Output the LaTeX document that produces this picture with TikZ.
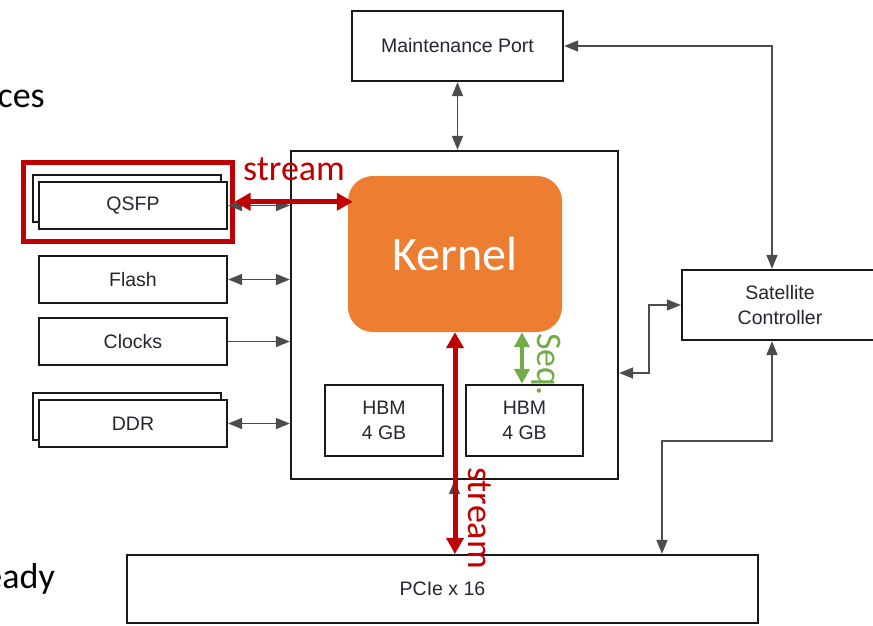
\documentclass[tikz,border=0pt]{standalone}
\usepackage{fontspec}
\setmainfont{Carlito}
\newfontfamily\boxfont{Liberation Sans}
\usetikzlibrary{arrows.meta,calc}
\definecolor{kor}{HTML}{ED7D31}
\definecolor{kred}{HTML}{C00000}
\definecolor{kgreen}{HTML}{70AD47}
\definecolor{ktxt}{HTML}{262630}
\begin{document}
\begin{tikzpicture}[x=1pt,y=-1pt,
  box/.style={draw=black!90, line width=2.3pt, fill=white, inner sep=0pt, align=center,
    font=\boxfont\fontsize{19.5}{24.5}\selectfont, text=ktxt},
  tipk/.tip={Triangle[length=14pt,width=11pt]},
  conn/.style={draw=black!70, line width=1.6pt, -tipk},
  dconn/.style={draw=black!70, line width=1.6pt, tipk-tipk},
  tipr/.tip={Triangle[length=16pt,width=17pt]},
  redarrow/.style={draw=kred, line width=5pt, tipr-tipr},
  tipg/.tip={Triangle[length=15pt,width=15pt]},
  greenarrow/.style={draw=kgreen, line width=4pt, tipg-tipg},
  bigtext/.style={inner sep=0pt, font=\fontsize{36}{40}\selectfont}
]
\useasboundingbox (0,0) rectangle (873,625);
\begin{scope}
\clip (0,0) rectangle (873,625);

% slide text fragments
\node[bigtext, anchor=base east] (ces) at (45,107) {ces};
\node[bigtext, anchor=base east] (eady) at (55,588) {eady};

% main boxes
\node[box, minimum width=211, minimum height=70] (maint) at (457.5,46) {Maintenance Port};
\node[box, minimum width=327, minimum height=328] (fpga) at (454.5,315) {};
\node[box, minimum width=196, minimum height=70] (sat) at (780,305) {Satellite\\Controller};
\node[box, minimum width=631, minimum height=68] (pcie) at (442.5,589) {PCIe x 16};

% HBM
\node[box, minimum width=118, minimum height=71] (hbma) at (384,420.5) {HBM\\4 GB};
\node[box, minimum width=117, minimum height=71] (hbmb) at (524.5,420.5) {HBM\\4 GB};

% left side boxes
\node[box, minimum width=188, minimum height=47] (qsfpb) at (127,198.5) {};
\node[box, minimum width=188, minimum height=47] (qsfp) at (133,205.5) {QSFP};
\node[box, minimum width=188, minimum height=47] (flash) at (133,279.5) {Flash};
\node[box, minimum width=188, minimum height=47] (clocks) at (133,341.5) {Clocks};
\node[box, minimum width=188, minimum height=47] (ddrb) at (127,416.5) {};
\node[box, minimum width=188, minimum height=47] (ddr) at (133,423.5) {DDR};

% red selection
\node[draw=kred, line width=5pt, inner sep=0pt, minimum width=208.5, minimum height=78.5] (qsel) at (127.75,201.75) {};

% black connectors
\draw[dconn] (maint.south) -- (maint.south |- fpga.north);
\draw[dconn] (maint.east) -| ([xshift=-8pt]sat.north);
\draw[dconn] (sat.west) -- ++(-32,0) |- ($(fpga.east)+(0,58)$);
\draw[dconn] ([xshift=-8pt]sat.south) -- ++(0,100) -| ($(pcie.north)+(219.5,0)$);
\draw[dconn] (fpga.south) -- (fpga.south |- pcie.north);
\draw[dconn] (qsfp.east) -- (qsfp.east -| fpga.west);
\draw[dconn] (flash.east) -- (flash.east -| fpga.west);
\draw[conn] (clocks.east) -- (clocks.east -| fpga.west);
\draw[dconn] (ddr.east) -- (ddr.east -| fpga.west);

% kernel
\node[fill=kor, rounded corners=25pt, minimum width=214, minimum height=156, inner sep=0pt,
  text=white, font=\fontsize{48}{52}\selectfont] (kernel) at (455,254) {Kernel};

% stream / seq arrows
\draw[redarrow] (qsel.east) -- ($(qsel.east -| kernel.west)+(5,0)$);
\draw[redarrow] (kernel.south) -- (kernel.south |- pcie.north);
\draw[greenarrow] ([xshift=67pt]kernel.south) -- ([xshift=67pt]kernel.south |- hbmb.north);

\node[bigtext, text=kred, anchor=base west] (s1) at (243,180) {stream};
\node[bigtext, text=kred, anchor=base west, rotate=-90] (s2) at (468,467) {stream};
\node[bigtext, text=kgreen, anchor=base west, rotate=-90] (sq) at (537,333) {Seq.};
\end{scope}
\end{tikzpicture}
\end{document}
